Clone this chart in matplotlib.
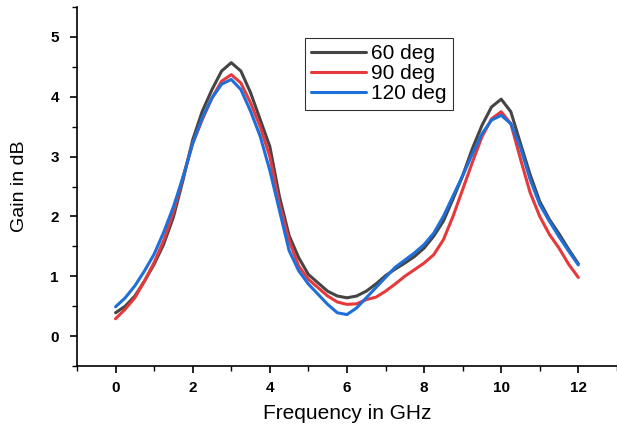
import matplotlib
matplotlib.use("Agg")
import matplotlib.pyplot as plt
from matplotlib.ticker import MultipleLocator

plt.rcParams['font.family'] = ['Liberation Sans', 'DejaVu Sans']

# frequency points (GHz), every 0.25 GHz
freq = [0, 0.25, 0.5, 0.75, 1, 1.25, 1.5, 1.75, 2, 2.25, 2.5, 2.75, 3, 3.25, 3.5, 3.75,
        4, 4.25, 4.5, 4.75, 5, 5.25, 5.5, 5.75, 6, 6.25, 6.5, 6.75, 7, 7.25, 7.5, 7.75,
        8, 8.25, 8.5, 8.75, 9, 9.25, 9.5, 9.75, 10, 10.25, 10.5, 10.75, 11, 11.25, 11.5, 11.75, 12]

gain_60 = [0.39, 0.50, 0.67, 0.92, 1.20, 1.54, 1.99, 2.61, 3.28, 3.76, 4.12, 4.43, 4.57, 4.43, 4.07, 3.62,
           3.17, 2.33, 1.68, 1.31, 1.03, 0.89, 0.75, 0.67, 0.64, 0.67, 0.75, 0.87, 1.01, 1.12, 1.22, 1.33,
           1.47, 1.67, 1.92, 2.29, 2.68, 3.13, 3.52, 3.83, 3.96, 3.75, 3.22, 2.70, 2.25, 1.95, 1.71, 1.45, 1.21]
gain_90 = [0.29, 0.45, 0.64, 0.92, 1.23, 1.60, 2.07, 2.66, 3.22, 3.62, 3.98, 4.26, 4.37, 4.23, 3.90, 3.50,
           3.00, 2.21, 1.60, 1.17, 0.95, 0.81, 0.67, 0.57, 0.53, 0.54, 0.61, 0.65, 0.75, 0.87, 1.00, 1.11,
           1.22, 1.36, 1.61, 2.00, 2.45, 2.90, 3.33, 3.63, 3.75, 3.55, 2.96, 2.40, 2.00, 1.70, 1.47, 1.20, 0.98]
gain_120 = [0.49, 0.64, 0.84, 1.09, 1.37, 1.74, 2.16, 2.66, 3.22, 3.65, 3.98, 4.21, 4.29, 4.12, 3.76, 3.34,
            2.77, 2.10, 1.43, 1.09, 0.87, 0.70, 0.53, 0.39, 0.36, 0.47, 0.64, 0.81, 0.98, 1.15, 1.27, 1.39,
            1.53, 1.72, 2.00, 2.34, 2.68, 3.04, 3.38, 3.61, 3.69, 3.55, 3.15, 2.62, 2.20, 1.92, 1.66, 1.42, 1.19]

labels = ['60 deg', '90 deg', '120 deg']
colors = ['#454545', '#e5393b', '#1e6fd9']

fig = plt.figure(figsize=(6.17, 4.26), dpi=100)
ax = fig.add_axes([0.1248, 0.1408, 0.875, 0.8427])

for g, lab, c in zip([gain_60, gain_90, gain_120], labels, colors):
    ax.plot(freq, g, color=c, lw=2.2, label=lab, solid_joinstyle='round', solid_capstyle='round')

ax.set_xlim(-1, 13)
ax.set_ylim(-0.5, 5.5)
ax.set_xticks([0, 2, 4, 6, 8, 10, 12])
ax.set_yticks([0, 1, 2, 3, 4, 5])
ax.xaxis.set_minor_locator(MultipleLocator(1))
ax.yaxis.set_minor_locator(MultipleLocator(0.5))
ax.tick_params(which='major', direction='out', length=5, width=1.2, labelsize=11, pad=6)
ax.tick_params(axis='y', which='major', pad=8)
ax.tick_params(which='minor', direction='out', length=3.5, width=1.0)
for t in ax.get_xticklabels() + ax.get_yticklabels():
    t.set_fontweight('bold')

ax.spines['top'].set_visible(False)
ax.spines['right'].set_visible(False)
ax.spines['left'].set_linewidth(1.2)
ax.spines['bottom'].set_linewidth(1.2)

ax.set_xlabel('Frequency in GHz', fontsize=15, labelpad=6)
ax.set_ylabel('Gain in dB', fontsize=14, labelpad=16)

leg = ax.legend(loc='upper left', bbox_to_anchor=(0.422, 0.9136), fontsize=15,
                frameon=True, fancybox=False, handlelength=2.65, handletextpad=0.25,
                labelspacing=0.05, borderpad=0.3, borderaxespad=0)
leg.get_frame().set_edgecolor('black')
leg.get_frame().set_linewidth(0.8)

fig.savefig('out.png', dpi=100)
